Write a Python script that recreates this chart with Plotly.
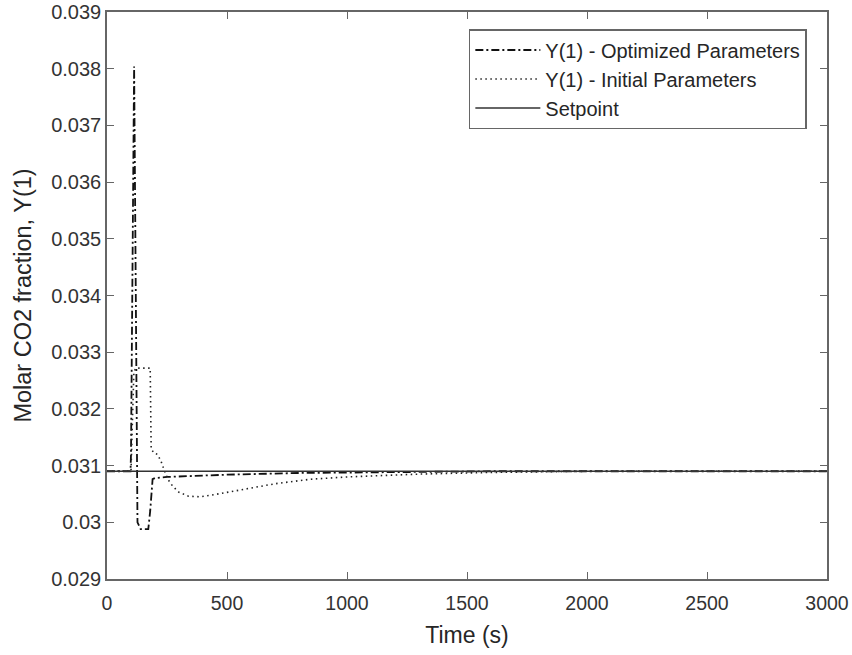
import plotly.graph_objects as go

# Optimized parameters response
t_opt = [0, 98, 100, 113, 127, 140, 172, 180, 190, 200, 250, 350, 500, 800, 1200, 1600, 2000, 3000]
y_opt = [0.0309, 0.0309, 0.0312, 0.03804, 0.0300, 0.02988, 0.02988, 0.0302, 0.03076, 0.03078, 0.0308, 0.03082, 0.03084, 0.03087, 0.03089, 0.0309, 0.0309, 0.0309]

# Initial parameters response
t_init = [0, 100, 106, 112, 120, 180, 184, 195, 210, 225, 240, 255, 275, 300, 340, 390, 450, 550, 700, 850, 1000, 1300, 1600, 2000, 3000]
y_init = [0.0309, 0.0309, 0.0318, 0.03265, 0.03272, 0.03272, 0.0313, 0.03122, 0.0312, 0.03108, 0.0309, 0.03075, 0.03063, 0.03053, 0.03046, 0.03045, 0.03049, 0.03057, 0.03068, 0.03076, 0.0308, 0.03085, 0.03088, 0.0309, 0.0309]

# Setpoint
t_sp = [0, 3000]
y_sp = [0.0309, 0.0309]

x_ticks = [0, 500, 1000, 1500, 2000, 2500, 3000]
y_ticks = [0.029, 0.030, 0.031, 0.032, 0.033, 0.034, 0.035, 0.036, 0.037, 0.038, 0.039]
y_ticktext = ["0.029", "0.03", "0.031", "0.032", "0.033", "0.034", "0.035", "0.036", "0.037", "0.038", "0.039"]

fig = go.Figure()
fig.add_trace(go.Scatter(x=t_opt, y=y_opt, mode="lines", name="Y(1) - Optimized Parameters",
                         line=dict(color="#111111", width=1.8, dash="8px,3px,2px,3px")))
fig.add_trace(go.Scatter(x=t_init, y=y_init, mode="lines", name="Y(1) - Initial Parameters",
                         line=dict(color="#222222", width=1.6, dash="1.5px,3.5px")))
fig.add_trace(go.Scatter(x=t_sp, y=y_sp, mode="lines", name="Setpoint",
                         line=dict(color="#333333", width=1.7)))

axis_col = "#666666"
fig.update_layout(
    width=852, height=655,
    margin=dict(l=107, r=25, t=12, b=76),
    paper_bgcolor="white", plot_bgcolor="white",
    font=dict(family="Liberation Sans, Arial, sans-serif", size=19, color="#333333"),
    legend=dict(x=0.972, y=0.97, xanchor="right", yanchor="top",
                bgcolor="white", bordercolor=axis_col, borderwidth=1.5,
                font=dict(size=20, color="#262626"), tracegroupgap=0,
                itemwidth=65),
    xaxis=dict(range=[0, 3000], tickvals=x_ticks, ticks="inside", ticklen=7,
               tickcolor=axis_col, showline=True, linecolor=axis_col, linewidth=1.6,
               mirror="ticks", showgrid=False, zeroline=False, automargin=False,
               ticklabelstandoff=6,
               title=dict(text="Time (s)", font=dict(size=23, color="#262626"), standoff=14),
               tickfont=dict(size=19.5, color="#333333")),
    yaxis=dict(range=[0.029, 0.039], tickvals=y_ticks, ticktext=y_ticktext, ticks="inside", ticklen=7,
               tickcolor=axis_col, showline=True, linecolor=axis_col, linewidth=1.6,
               mirror="ticks", showgrid=False, zeroline=False, automargin=False,
               title=dict(text="Molar CO2 fraction, Y(1)", font=dict(size=23.5, color="#262626"), standoff=13),
               tickfont=dict(size=20, color="#333333")),
)

fig.write_html("out.html")
